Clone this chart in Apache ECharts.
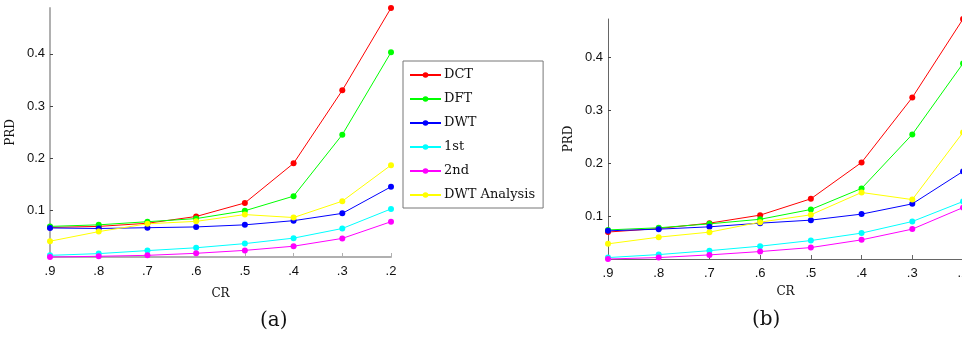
<!DOCTYPE html>
<html>
<head>
<meta charset="utf-8">
<script src="https://cdn.jsdelivr.net/npm/echarts@6/dist/echarts.min.js"></script>
<style>html,body{margin:0;padding:0;background:#fff}#c{width:962px;height:337px}</style>
</head>
<body>
<div id="c"></div>
<script>
var categories = ['.9', '.8', '.7', '.6', '.5', '.4', '.3', '.2'];
var seriesNames = ['DCT', 'DFT', 'DWT', '1st', '2nd', 'DWT Analysis'];
var colors = ['#ff0000', '#00ff00', '#0000ff', '#00ffff', '#ff00ff', '#ffff00'];
var yTicks = [0.1, 0.2, 0.3, 0.4];

// panel (a)
var aDCT = [0.067, 0.069, 0.075, 0.088, 0.114, 0.190, 0.330, 0.488];
var aDFT = [0.069, 0.072, 0.078, 0.084, 0.099, 0.127, 0.245, 0.403];
var aDWT = [0.066, 0.065, 0.0665, 0.068, 0.072, 0.080, 0.094, 0.145];
var a1st = [0.0135, 0.0168, 0.0226, 0.028, 0.036, 0.0465, 0.065, 0.1025];
var a2nd = [0.0103, 0.0117, 0.0135, 0.0174, 0.023, 0.031, 0.046, 0.078];
var aDWTA = [0.0406, 0.059, 0.074, 0.0787, 0.0917, 0.086, 0.1174, 0.1865];

// panel (b)
var bDCT = [0.071, 0.0776, 0.0877, 0.1028, 0.1335, 0.2019, 0.324, 0.4716];
var bDFT = [0.075, 0.079, 0.0864, 0.095, 0.1134, 0.153, 0.2546, 0.388];
var bDWT = [0.0733, 0.0764, 0.0808, 0.0877, 0.0934, 0.1047, 0.124, 0.185];
var b1st = [0.023, 0.0286, 0.036, 0.0444, 0.055, 0.069, 0.0908, 0.1284];
var b2nd = [0.0203, 0.023, 0.028, 0.0343, 0.0418, 0.0563, 0.0765, 0.117];
var bDWTA = [0.0488, 0.0614, 0.0708, 0.0896, 0.1034, 0.1454, 0.132, 0.2584];

var panelA = [aDCT, aDFT, aDWT, a1st, a2nd, aDWTA];
var panelB = [bDCT, bDFT, bDWT, b1st, b2nd, bDWTA];

var chart = echarts.init(document.getElementById('c'));

function xAxisCfg(gi, axColor, axWidth, gap) {
  return {
    type: 'category', gridIndex: gi, data: categories, boundaryGap: false,
    axisLine: { lineStyle: { color: axColor, width: axWidth } },
    axisTick: { inside: true, length: 4, lineStyle: { color: axColor, width: 1 } },
    axisLabel: { color: '#111', fontFamily: 'Liberation Sans', fontSize: 13, margin: 8 },
    name: 'CR', nameLocation: 'middle', nameGap: gap,
    nameTextStyle: { fontFamily: 'DejaVu Serif', fontSize: 12, color: '#111' },
    splitLine: { show: false }
  };
}
function yAxisCfg(gi, axColor, axWidth) {
  return {
    type: 'value', gridIndex: gi, min: 'dataMin', max: 'dataMax',
    axisLine: { show: true, lineStyle: { color: axColor, width: axWidth } },
    axisTick: { show: true, inside: true, length: 3, customValues: yTicks, lineStyle: { color: '#444', width: 1 } },
    axisLabel: { customValues: yTicks, color: '#111', fontFamily: 'Liberation Sans', fontSize: 13, margin: 5,
      formatter: function (v) { return v.toFixed(1); } },
    splitLine: { show: false },
    name: 'PRD', nameLocation: 'middle', nameGap: 33, nameRotate: 90,
    nameTextStyle: { fontFamily: 'DejaVu Serif', fontSize: 12, color: '#111' }
  };
}

var series = [];
[panelA, panelB].forEach(function (panel, gi) {
  panel.forEach(function (vals, i) {
    series.push({
      name: seriesNames[i], type: 'line', xAxisIndex: gi, yAxisIndex: gi,
      data: vals, symbol: 'circle', symbolSize: 6, showSymbol: true,
      itemStyle: { color: colors[i] },
      lineStyle: { color: colors[i], width: 1 },
      animation: false, clip: false
    });
  });
});

chart.setOption({
  animation: false,
  grid: [
    { left: 50, top: 8, width: 341, height: 249, outerBoundsMode: 'none', containLabel: false },
    { left: 608, top: 19, width: 355, height: 240, outerBoundsMode: 'none', containLabel: false }
  ],
  xAxis: [xAxisCfg(0, '#b0b0b0', 2, 31), xAxisCfg(1, '#666', 1, 27)],
  yAxis: [yAxisCfg(0, '#b0b0b0', 2), yAxisCfg(1, '#666', 1)],
  legend: {
    data: seriesNames, orient: 'vertical', left: 403, top: 61,
    padding: [7, 8, 6, 6], itemWidth: 31, itemHeight: 7, itemGap: 10,
    borderColor: '#777', borderWidth: 1, backgroundColor: '#fff',
    textStyle: { fontFamily: 'DejaVu Serif', fontSize: 13, color: '#111', padding: [0, 0, 0, -2], lineHeight: 14 }
  },
  graphic: [
    { type: 'text', left: 260, top: 311, style: { text: '(a)', font: '20px "DejaVu Serif"', fill: '#111' } },
    { type: 'text', left: 752, top: 310, style: { text: '(b)', font: '20px "DejaVu Serif"', fill: '#111' } }
  ],
  series: series
});
</script>
</body>
</html>
